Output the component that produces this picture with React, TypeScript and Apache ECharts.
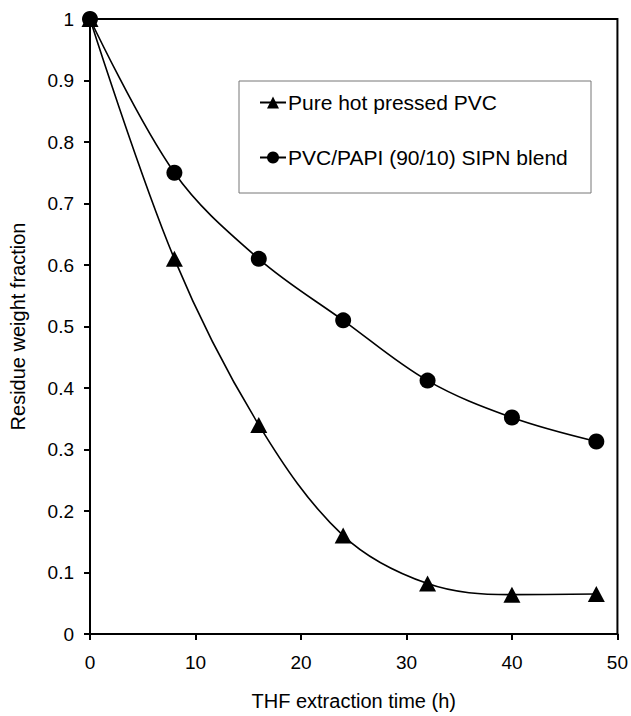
import React, { useEffect, useRef } from "react";
import * as echarts from "echarts";

const hours = [0, 8, 16, 24, 32, 40, 48];
const purePVC = [1, 0.61, 0.34, 0.16, 0.082, 0.064, 0.065];
const sipnBlend = [1, 0.75, 0.61, 0.51, 0.412, 0.352, 0.313];
const seriesNames = ["Pure hot pressed PVC", "PVC/PAPI (90/10) SIPN blend"];
const xTitle = "THF extraction time (h)";
const yTitle = "Residue weight fraction";

const FONT = "'Liberation Sans', Arial, sans-serif";

export default function App() {
  const ref = useRef<HTMLDivElement>(null);
  useEffect(() => {
    if (!ref.current) return;
    const chart = echarts.init(ref.current, null, { renderer: "svg" });
    const pair = (ys: number[]) => hours.map((h, i) => [h, ys[i]]);
    chart.setOption({
      animation: false,
      backgroundColor: "#fff",
      textStyle: { fontFamily: FONT, color: "#000" },
      grid: {
        left: 90,
        right: 13,
        top: 19,
        bottom: 78,
        show: true,
        borderColor: "#000",
        borderWidth: 2,
        backgroundColor: "transparent",
      },
      xAxis: {
        type: "value",
        min: 0,
        max: 50,
        interval: 10,
        name: xTitle,
        nameLocation: "middle",
        nameGap: 57,
        nameTextStyle: { fontSize: 20, color: "#000", fontFamily: FONT },
        axisLine: { show: true, onZero: false, lineStyle: { color: "#000", width: 2 } },
        axisTick: { show: true, inside: false, length: 6, lineStyle: { color: "#000", width: 2 } },
        axisLabel: { fontSize: 19, color: "#000", margin: 19, fontFamily: FONT },
        splitLine: { show: false },
      },
      yAxis: {
        type: "value",
        min: 0,
        max: 1,
        interval: 0.1,
        name: yTitle,
        nameLocation: "middle",
        nameGap: 62,
        nameTextStyle: { fontSize: 20, color: "#000", fontFamily: FONT },
        axisLine: { show: true, onZero: false, lineStyle: { color: "#000", width: 2 } },
        axisTick: { show: true, inside: false, length: 6, lineStyle: { color: "#000", width: 2 } },
        axisLabel: {
          fontSize: 19,
          color: "#000",
          margin: 16,
          fontFamily: FONT,
          formatter: (v: number) => String(Math.round(v * 10) / 10),
        },
        splitLine: { show: false },
      },
      legend: {
        orient: "vertical",
        left: 259,
        top: 92,
        padding: 0,
        itemGap: 34,
        itemWidth: 26,
        itemHeight: 15,
        textStyle: { fontSize: 21, color: "#000", fontFamily: FONT, lineHeight: 21, padding: [0, 0, 0, -3] },
        data: seriesNames,
      },
      graphic: [
        {
          type: "rect",
          shape: { x: 239, y: 81, width: 352, height: 112 },
          style: { fill: "none", stroke: "#777", lineWidth: 1 },
          z: 10,
        },
      ],
      series: [
        {
          name: seriesNames[0],
          type: "line",
          data: pair(purePVC),
          smooth: 0.35,
          symbol: "triangle",
          symbolSize: [17, 16],
          lineStyle: { color: "#000", width: 1.6 },
          itemStyle: { color: "#000" },
        },
        {
          name: seriesNames[1],
          type: "line",
          data: pair(sipnBlend),
          smooth: 0.35,
          symbol: "circle",
          symbolSize: 16,
          lineStyle: { color: "#000", width: 1.6 },
          itemStyle: { color: "#000" },
        },
      ],
    });
    return () => chart.dispose();
  }, []);
  return <div ref={ref} style={{ width: 631, height: 716, position: "absolute", left: 0, top: 0 }} />;
}
